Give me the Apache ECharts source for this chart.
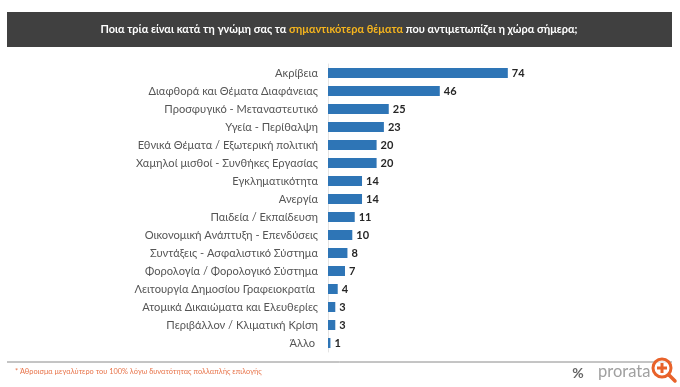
<!DOCTYPE html>
<html><head><meta charset="utf-8">
<style>html,body{margin:0;padding:0;background:#fff}#c{width:680px;height:387px}</style>
<script src="https://cdn.jsdelivr.net/npm/echarts@6/dist/echarts.min.js"></script>
</head><body><div id="c"></div>
<script>
const categories = ['Ακρίβεια','Διαφθορά και Θέματα Διαφάνειας','Προσφυγικό - Μεταναστευτικό','Υγεία - Περίθαλψη','Εθνικά Θέματα / Εξωτερική πολιτική','Χαμηλοί μισθοί - Συνθήκες Εργασίας','Εγκληματικότητα','Ανεργία','Παιδεία / Εκπαίδευση','Οικονομική Ανάπτυξη - Επενδύσεις','Συντάξεις - Ασφαλιστικό Σύστημα','Φορολογία / Φορολογικό Σύστημα','Λειτουργία Δημοσίου Γραφειοκρατία\u00a0','Ατομικά Δικαιώματα και Ελευθερίες','Περιβάλλον / Κλιματική Κρίση','Άλλο\u00a0'];
const values = [74,46,25,23,20,20,14,14,11,10,8,7,4,3,3,1];
const font = 'Lato, "Open Sans", sans-serif';
const chart = echarts.init(document.getElementById('c'), null, {renderer:'canvas'});
chart.setOption({
  animation:false,
  grid:{left:328,top:64,width:243,height:288},
  xAxis:{type:'value',min:0,max:100,show:false},
  yAxis:{type:'category',inverse:true,data:categories,
    axisTick:{show:false},
    axisLine:{show:true,lineStyle:{color:'#e4e4e4',width:1}},
    axisLabel:{color:'#555',fontFamily:font,fontSize:11.1,margin:10}},
  series:[{type:'bar',data:values,barWidth:10,
    itemStyle:{color:'#2e75b6'},
    label:{show:true,position:'right',distance:4,color:'#262626',fontFamily:font,fontWeight:'bold',fontSize:11}}],
  graphic:[
    {type:'rect',shape:{x:7,y:12,width:665,height:35},style:{fill:'#404040'},z:1},
    {type:'text',x:339,y:29.5,z:2,style:{
      text:'{w|Ποια τρία είναι κατά τη γνώμη σας τα }{y|σημαντικότερα θέματα}{w| που αντιμετωπίζει η χώρα σήμερα;}',
      align:'center',verticalAlign:'middle',
      rich:{w:{fill:'#fff',fontFamily:font,fontWeight:'bold',fontSize:10.95},
            y:{fill:'#f5b41e',fontFamily:font,fontWeight:'bold',fontSize:10.95}}}},
    {type:'line',shape:{x1:7,y1:362,x2:672,y2:362},style:{stroke:'#8a8a8a',lineWidth:1}},
    {type:'text',x:15,y:372,style:{text:'* Άθροισμα μεγαλύτερο του 100% λόγω δυνατότητας πολλαπλής επιλογής',
      fill:'#e8744a',fontFamily:font,fontSize:7.4,verticalAlign:'middle'}},
    {type:'text',x:578,y:373,style:{text:'%',fill:'#666',fontFamily:font,fontWeight:'bold',fontSize:14,align:'center',verticalAlign:'middle'}},
    {type:'text',x:598,y:372,style:{text:'prorata',fill:'#a0a0a0',fontFamily:font,fontSize:16.5,verticalAlign:'middle'}},
    {type:'circle',shape:{cx:662,cy:368,r:9},style:{fill:'rgba(255,255,255,0.7)',stroke:'#e8622a',lineWidth:3},z:5},
    {type:'line',shape:{x1:669,y1:375,x2:675,y2:381},style:{stroke:'#e8622a',lineWidth:3.5,lineCap:'round'},z:5},
    {type:'line',shape:{x1:657,y1:368,x2:667,y2:368},style:{stroke:'#e8622a',lineWidth:3},z:6},
    {type:'line',shape:{x1:662,y1:363,x2:662,y2:373},style:{stroke:'#e8622a',lineWidth:3},z:6}
  ]
});
</script></body></html>
